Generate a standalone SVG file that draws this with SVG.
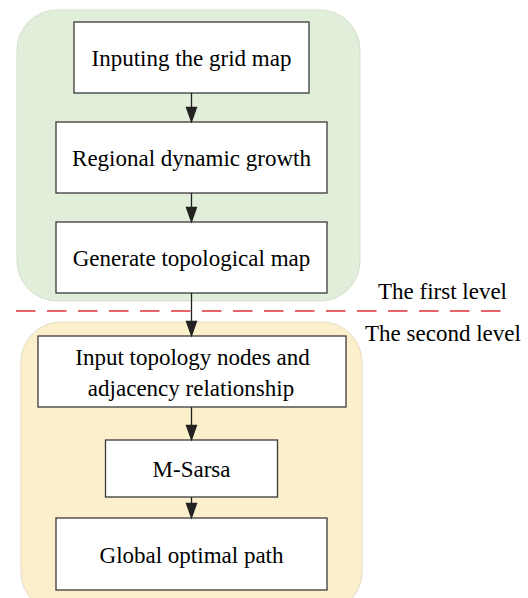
<svg xmlns="http://www.w3.org/2000/svg" width="528" height="598" viewBox="0 0 528 598">
<defs>
<path id="ah" d="M-5,-14 L0,0 L5,-14 Z" fill="#222"/>
</defs>
<g id="panel1"><rect x="17" y="10" width="343" height="291" rx="40" fill="#e1eed9" stroke="#d4e0cc" stroke-width="1"/></g>
<g id="panel2"><rect x="21" y="322" width="341" height="290" rx="40" fill="#fcf0cc" stroke="#e4dcc4" stroke-width="1"/></g>
<g id="divider"><line x1="16" y1="311" x2="510" y2="311" stroke="#e0303a" stroke-width="1.5" stroke-dasharray="19.5 11.5"/></g>
<text id="level1" x="378" y="299" font-family="Liberation Serif" font-size="23">The first level</text>
<text id="level2" x="365" y="341" font-family="Liberation Serif" font-size="23">The second level</text>
<g id="n1"><rect x="74" y="22" width="235" height="71" fill="#fff" stroke="#3a3a3a" stroke-width="1.3"/><text x="191.5" y="65.5" font-family="Liberation Serif" font-size="23" text-anchor="middle">Inputing the grid map</text></g>
<g id="n2"><rect x="56" y="122" width="271" height="71" fill="#fff" stroke="#3a3a3a" stroke-width="1.3"/><text x="191.5" y="165.5" font-family="Liberation Serif" font-size="23" text-anchor="middle">Regional dynamic growth</text></g>
<g id="n3"><rect x="56" y="222" width="271" height="71" fill="#fff" stroke="#3a3a3a" stroke-width="1.3"/><text x="191.5" y="265.5" font-family="Liberation Serif" font-size="23" text-anchor="middle">Generate topological map</text></g>
<g id="n4"><rect x="38" y="336" width="308" height="71" fill="#fff" stroke="#3a3a3a" stroke-width="1.3"/><text x="192.5" y="365" font-family="Liberation Serif" font-size="23" text-anchor="middle">Input topology nodes and</text><text x="191" y="396" font-family="Liberation Serif" font-size="23" text-anchor="middle">adjacency relationship</text></g>
<g id="n5"><rect x="105.5" y="440" width="172" height="57" fill="#fff" stroke="#3a3a3a" stroke-width="1.3"/><text x="191.5" y="476.5" font-family="Liberation Serif" font-size="23" text-anchor="middle">M-Sarsa</text></g>
<g id="n6"><rect x="56" y="518" width="271" height="72" fill="#fff" stroke="#3a3a3a" stroke-width="1.3"/><text x="191.5" y="563" font-family="Liberation Serif" font-size="23" text-anchor="middle">Global optimal path</text></g>
<g id="connectors" stroke="#222" stroke-width="1.3">
<line x1="191.5" y1="93" x2="191.5" y2="110"/><use href="#ah" x="191.5" y="121.5"/>
<line x1="191.5" y1="193" x2="191.5" y2="210"/><use href="#ah" x="191.5" y="221.5"/>
<line x1="191.5" y1="293" x2="191.5" y2="324"/><use href="#ah" x="191.5" y="335.5"/>
<line x1="191.5" y1="407" x2="191.5" y2="428"/><use href="#ah" x="191.5" y="439.5"/>
<line x1="191.5" y1="497" x2="191.5" y2="506"/><use href="#ah" x="191.5" y="517.5"/>
</g>
</svg>
